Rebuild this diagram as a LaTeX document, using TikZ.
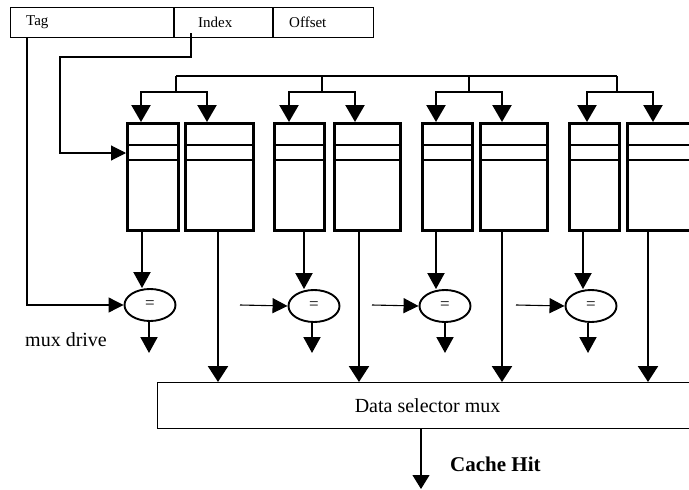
\documentclass[tikz,border=0pt]{standalone}
\usepackage{fontspec}
\setmainfont{Liberation Serif}
\usetikzlibrary{arrows.meta,shapes.geometric}

\begin{document}
\begin{tikzpicture}[x=1pt,y=-1pt,
  thinline/.style={line width=1.1pt},
  cell/.style={draw, line width=2.8pt, rectangle, inner sep=0pt, anchor=north west},
  fieldlabel/.style={anchor=west, inner sep=0pt, font=\fontsize{15}{17}\selectfont},
  biglabel/.style={anchor=west, inner sep=0pt, font=\fontsize{20}{24}\selectfont},
  feed/.style={line width=2.4pt, -{Triangle[length=17pt,width=19pt]}},
  dataline/.style={line width=2.4pt, -{Triangle[length=16pt,width=20pt]}},
  cmpline/.style={line width=2pt, -{Triangle[length=16pt,width=17pt]}},
  inarrow/.style={thinline, -{Triangle[length=15pt,width=15pt]}},
  comparator/.style={ellipse, draw, line width=1.9pt, minimum width=51pt,
    minimum height=32pt, inner sep=0pt, font=\fontsize{17}{19}\selectfont},
]
\useasboundingbox (0,0) rectangle (689,490);
\clip (0,0) rectangle (689,490);

% address fields
\node[draw, thinline, rectangle, inner sep=0pt, anchor=north west,
      minimum width=363pt, minimum height=30pt] (addr) at (10,7) {};
\draw[thinline] (174,7) -- (174,37);
\draw[thinline] (273,7) -- (273,37);
\node[fieldlabel] (tag) at (26,22) {Tag};
\node[fieldlabel] (index) at (198,22) {Index};
\node[fieldlabel] (offset) at (289,22) {Offset};
\coordinate (tagout) at (27,37);
\coordinate (idxout) at (191,33);

% tag and data arrays, one pair per way
\foreach \i/\ax/\aw/\bx/\bw in {1/126/51/184/68, 2/273/50/333/66, 3/421/50/479/67, 4/568/50/626/100}{
  \node[cell, minimum width=\aw pt, minimum height=107pt] (a\i) at (\ax,122) {};
  \node[cell, minimum width=\bw pt, minimum height=107pt] (b\i) at (\bx,122) {};
  \foreach \yy in {145,160}{
    \draw[line width=2.4pt] (a\i.west |- 0,\yy) -- (a\i.east |- 0,\yy);
    \draw[line width=2.4pt] (b\i.west |- 0,\yy) -- (b\i.east |- 0,\yy);
  }
}

% index distribution to every way
\draw[thinline] (176,76) -- (617,76);
\foreach \i/\d/\l/\r in {1/176/141/207, 2/322/289/355, 3/469/436/502, 4/617/587/653}{
  \coordinate (split\i) at (\d,92);
  \draw[line width=1.8pt] (\d,76) -- (split\i);
  \draw[feed] (split\i) -| (a\i.north -| \l,0);
  \draw[feed] (split\i) -| (b\i.north -| \r,0);
}

% comparators
\node[comparator] (eq1) at (150,305) {=};
\node[comparator] (eq2) at (314,306) {=};
\node[comparator] (eq3) at (445,306) {=};
\node[comparator] (eq4) at (591,306) {=};

\foreach \i/\x in {1/142, 2/304, 3/436, 4/583}{
  \draw[cmpline] (a\i.south -| \x,0) -- (eq\i.north -| \x,0);
}
\foreach \i/\x in {1/149, 2/312, 3/445, 4/588}{
  \coordinate (hit\i) at (\x,353);
  \draw[cmpline] (eq\i.south -| \x,0) -- (hit\i);
}
\foreach \i/\x in {2/240, 3/372, 4/516}{
  \coordinate (tagin\i) at (\x,305);
  \draw[inarrow] (tagin\i) -- (eq\i.west);
}

% tag into the first comparator, index into the first array
\draw[inarrow] (tagout) |- (eq1.west);
\draw[inarrow] (idxout) -- (191,57) -- (60,57) |- (a1.west |- 0,153);

\node[biglabel] (muxdrive) at (25,340) {mux drive};

% data selector
\node[draw, thinline, rectangle, inner sep=0pt, anchor=north west,
      minimum width=540pt, minimum height=46pt,
      font=\fontsize{20}{24}\selectfont] (mux) at (157,382) {Data selector mux};
\foreach \i/\x in {1/218, 2/359, 3/502, 4/648}{
  \draw[dataline] (b\i.south -| \x,0) -- (mux.north -| \x,0);
}

\coordinate (out) at (421,489);
\draw[thinline, -{Triangle[length=14pt,width=17pt]}] (mux.south -| 421,0) -- (out);
\node[biglabel, font=\fontsize{21}{24}\selectfont\bfseries] (cachehit) at (450,464) {Cache Hit};
\end{tikzpicture}
\end{document}
